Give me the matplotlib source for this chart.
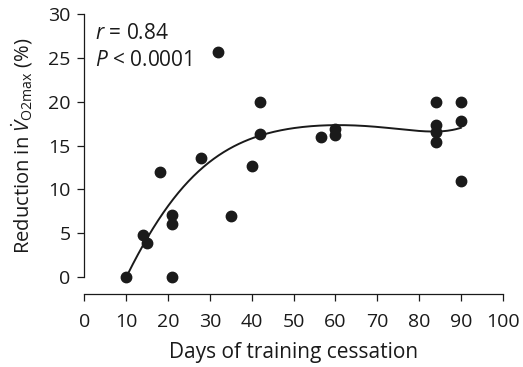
import matplotlib.pyplot as plt
import numpy as np

plt.rcParams['font.family'] = ['Open Sans', 'DejaVu Sans']
plt.rcParams['mathtext.fontset'] = 'custom'
plt.rcParams['mathtext.rm'] = 'Open Sans'
plt.rcParams['mathtext.it'] = 'Open Sans:italic'

ink = '#1a1a1a'

# data points
days = [10, 14, 15, 18, 21, 21, 21, 28, 32, 35, 40, 42, 42, 56.5, 60, 60,
        84, 84, 84, 84, 90, 90, 90]
reduction = [0, 4.8, 3.8, 12, 7.1, 6.0, 0, 13.6, 25.7, 6.9, 12.7, 20, 16.3, 16.0, 16.9, 16.2,
             20, 17.3, 16.6, 15.4, 20, 17.8, 11.0]

# fitted curve, read at a few positions
curve_x = [10, 15, 21, 28, 35, 40, 42, 48, 55, 63, 68, 73, 78, 83, 90]
curve_y = [0, 4.2, 8.8, 12.6, 14.5, 15.6, 16.2, 17.0, 17.25, 17.3, 17.25, 16.9, 16.7, 16.7, 17.0]

xticks = list(range(0, 101, 10))
yticks = list(range(0, 31, 5))

fig = plt.figure(figsize=(5.23, 3.67), dpi=100)
ax = fig.add_axes([0.1612, 0.246, 0.8, 0.715])

# smooth the curve through the read positions
coef = np.polyfit(curve_x, curve_y, 6)
xs = np.linspace(10, 90, 200)
ax.plot(xs, np.polyval(coef, xs), color=ink, lw=1.4)

ax.plot(days, reduction, 'o', color=ink, ms=7.5, clip_on=False, zorder=3)

ax.set_xlim(0, 100)
ax.set_ylim(0, 30)
ax.set_xticks(xticks)
ax.set_yticks(yticks)

ax.spines['right'].set_visible(False)
ax.spines['top'].set_visible(False)
ax.spines['bottom'].set_position(('outward', 12.5))
for s in ['left', 'bottom']:
    ax.spines[s].set_color(ink)
    ax.spines[s].set_linewidth(0.9)
ax.tick_params(colors=ink, width=0.9, length=5, labelsize=14)
ax.tick_params(axis='x', pad=8.5)
ax.tick_params(axis='y', pad=5)

ax.set_xlabel('Days of training cessation', fontsize=15, color=ink, labelpad=8)
ax.set_ylabel(r'Reduction in $\dot{\mathit{V}}_{\mathrm{O2max}}$ (%)', fontsize=14.5, color=ink, labelpad=9)

ax.text(0.025, 0.965, r'$\mathit{r}$ = 0.84', transform=ax.transAxes, fontsize=15, color=ink, va='top')
ax.text(0.025, 0.865, r'$\mathit{P}$ < 0.0001', transform=ax.transAxes, fontsize=15, color=ink, va='top')

fig.savefig('out.png', dpi=100)
